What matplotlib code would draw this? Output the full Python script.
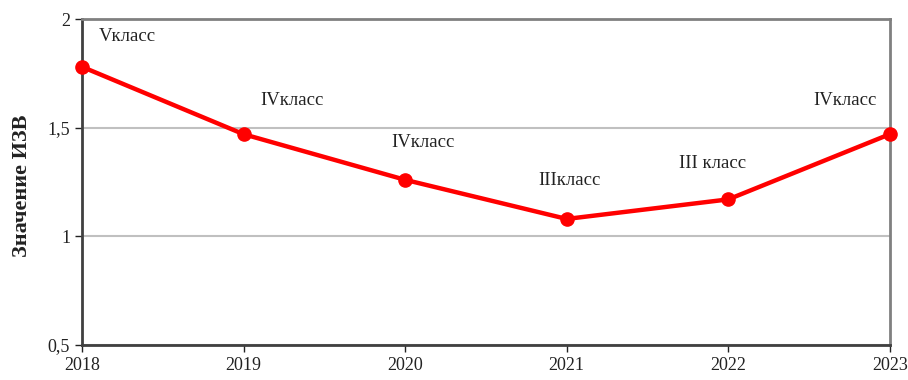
import matplotlib.pyplot as plt

years = [2018, 2019, 2020, 2021, 2022, 2023]
izv = [1.78, 1.47, 1.26, 1.08, 1.17, 1.47]
classes = ['Vкласс', 'IVкласс', 'IVкласс', 'IIIкласс', 'III класс', 'IVкласс']
yticks = [0.5, 1, 1.5, 2]
ytick_labels = ['0,5', '1', '1,5', '2']

# label offsets from each point, in pixels
offsets = [(45, 30), (48, 34), (18, 37), (3, 38), (-16, 36), (-45, 34)]

plt.rcParams['font.family'] = ['Liberation Serif', 'DejaVu Serif']

fig = plt.figure(figsize=(9.08, 3.8), dpi=100)
ax = fig.add_axes([0.0903, 0.0921, 0.8897, 0.8579])

ax.plot(years, izv, color='#ff0000', lw=3.2, marker='o', markersize=9.5, zorder=3, clip_on=False)

for x, y, txt, off in zip(years, izv, classes, offsets):
    ax.annotate(txt, (x, y), xytext=off, textcoords='offset pixels',
                ha='center', va='center', fontsize=13.5, color='#222222')

ax.set_xlim(2018, 2023)
ax.set_ylim(0.5, 2)
ax.set_xticks(years)
ax.set_yticks(yticks)
ax.set_yticklabels(ytick_labels)
ax.tick_params(labelsize=13, colors='#222222', length=5, width=1, direction='out')
ax.grid(axis='y', color='#c0c0c0', lw=1.5)
ax.set_axisbelow(True)

for side in ['left', 'bottom']:
    ax.spines[side].set_color('#404040')
    ax.spines[side].set_linewidth(2)
for side in ['top', 'right']:
    ax.spines[side].set_color('#808080')
    ax.spines[side].set_linewidth(2)

ax.set_ylabel('Значение ИЗВ', fontsize=16, fontweight='bold', color='#222222')
ax.yaxis.set_label_coords(-0.062, 0.49)

fig.savefig('out.png', dpi=100)
